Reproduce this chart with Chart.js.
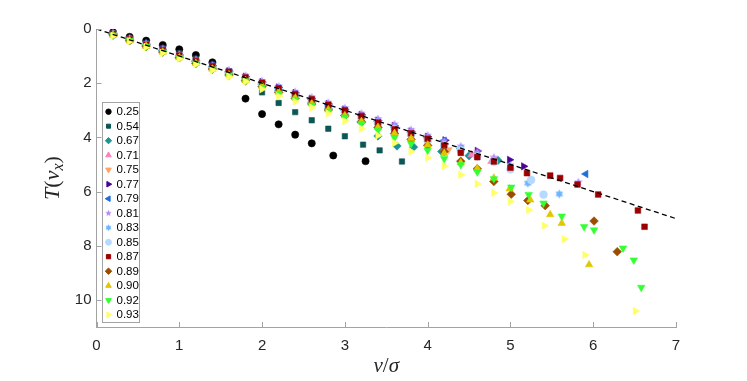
<!DOCTYPE html>
<html>
<head>
<meta charset="utf-8">
<script src="https://cdn.jsdelivr.net/npm/chart.js@4.4.1/dist/chart.umd.min.js"></script>
<style>
body { margin: 0; background: #fff; }
#wrap { width: 747px; height: 381px; }
</style>
</head>
<body>
<div id="wrap"><canvas id="myChart" width="747" height="381"></canvas></div>
<script>
// T(v_x) against v/sigma, one series per density

var seriesNames = ['0.25', '0.54', '0.67', '0.71', '0.75', '0.77', '0.79', '0.81', '0.83', '0.85', '0.87', '0.89', '0.90', '0.92', '0.93'];

var xTicks = [0, 1, 2, 3, 4, 5, 6, 7];
var yTicks = [0, 2, 4, 6, 8, 10];

// dashed reference line
var refX = [0, 7];
var refY = [0, 7];

var x025 = [0.2, 0.4, 0.6, 0.8, 1.0, 1.2, 1.4, 1.6, 1.8, 2.0, 2.2, 2.4, 2.6, 2.86, 3.25];
var y025 = [0.12, 0.29, 0.43, 0.59, 0.75, 0.96, 1.23, 1.58, 2.57, 3.14, 3.52, 3.90, 4.22, 4.67, 4.88];

var x054 = [0.2, 0.4, 0.6, 0.8, 1.0, 1.2, 1.4, 1.6, 1.8, 2.0, 2.2, 2.4, 2.6, 2.8, 3.0, 3.22, 3.42, 3.69];
var y054 = [0.16, 0.34, 0.52, 0.71, 0.90, 1.10, 1.32, 1.56, 1.86, 2.34, 2.73, 3.07, 3.37, 3.68, 3.96, 4.27, 4.48, 4.89];

var x067 = [0.2, 0.4, 0.6, 0.8, 1.0, 1.2, 1.4, 1.6, 1.8, 2.0, 2.2, 2.4, 2.6, 2.8, 3.0, 3.2, 3.4, 3.63, 3.83, 4.17, 4.5, 4.85];
var y067 = [0.20, 0.40, 0.60, 0.80, 1.00, 1.21, 1.42, 1.63, 1.85, 2.06, 2.28, 2.50, 2.72, 2.95, 3.18, 3.45, 3.95, 4.32, 4.36, 4.52, 4.68, 4.85];

var x071 = [0.2, 0.4, 0.6, 0.8, 1.0, 1.2, 1.4, 1.6, 1.8, 2.0, 2.2, 2.4, 2.6, 2.8, 3.0, 3.2, 3.4, 3.6, 3.8, 4.0, 4.2, 4.53, 4.77];
var y071 = [0.20, 0.41, 0.62, 0.82, 1.03, 1.23, 1.44, 1.64, 1.85, 2.06, 2.27, 2.48, 2.69, 2.90, 3.11, 3.33, 3.55, 3.77, 3.99, 4.21, 4.42, 4.64, 4.89];

var x075 = [0.2, 0.4, 0.6, 0.8, 1.0, 1.2, 1.4, 1.6, 1.8, 2.0, 2.2, 2.4, 2.6, 2.8, 3.0, 3.2, 3.4, 3.6, 3.8, 4.0, 4.25, 4.59];
var y075 = [0.22, 0.43, 0.64, 0.85, 1.06, 1.27, 1.48, 1.69, 1.90, 2.11, 2.32, 2.53, 2.74, 2.95, 3.16, 3.37, 3.58, 3.80, 4.02, 4.24, 4.46, 4.64];

var x077 = [0.2, 0.4, 0.6, 0.8, 1.0, 1.2, 1.4, 1.6, 1.8, 2.0, 2.2, 2.4, 2.6, 2.8, 3.0, 3.2, 3.4, 3.6, 3.8, 4.0, 4.21, 4.6, 4.99, 5.16];
var y077 = [0.17, 0.37, 0.56, 0.76, 0.96, 1.16, 1.36, 1.56, 1.76, 1.96, 2.16, 2.36, 2.57, 2.77, 2.97, 3.17, 3.38, 3.58, 3.78, 3.98, 4.11, 4.50, 4.83, 5.07];

var x079 = [0.2, 0.4, 0.6, 0.8, 1.0, 1.2, 1.4, 1.6, 1.8, 2.0, 2.2, 2.4, 2.6, 2.8, 3.0, 3.2, 3.4, 3.6, 3.8, 4.0, 4.2, 4.4, 5.91];
var y079 = [0.18, 0.38, 0.58, 0.78, 0.98, 1.18, 1.38, 1.58, 1.79, 1.99, 2.19, 2.39, 2.60, 2.80, 3.00, 3.20, 3.41, 3.62, 3.82, 4.02, 4.12, 4.42, 5.35];

var x081 = [0.2, 0.4, 0.6, 0.8, 1.0, 1.2, 1.4, 1.6, 1.8, 2.0, 2.2, 2.4, 2.6, 2.8, 3.0, 3.2, 3.4, 3.6, 3.8, 4.0, 4.2, 4.4, 4.6, 4.8, 5.82];
var y081 = [0.14, 0.33, 0.52, 0.72, 0.92, 1.12, 1.32, 1.52, 1.72, 1.92, 2.12, 2.32, 2.52, 2.72, 2.92, 3.12, 3.32, 3.52, 3.72, 3.93, 4.13, 4.33, 4.53, 4.74, 5.65];

var x083 = [0.2, 0.4, 0.6, 0.8, 1.0, 1.2, 1.4, 1.6, 1.8, 2.0, 2.2, 2.4, 2.6, 2.8, 3.0, 3.2, 3.4, 3.6, 3.8, 4.0, 4.2, 4.4, 4.6, 4.8, 5.0, 5.21, 5.59];
var y083 = [0.19, 0.39, 0.59, 0.80, 1.00, 1.20, 1.41, 1.61, 1.82, 2.02, 2.22, 2.43, 2.63, 2.84, 3.04, 3.25, 3.45, 3.66, 3.86, 4.07, 4.27, 4.42, 4.66, 4.87, 5.05, 5.69, 6.09];

var x085 = [0.2, 0.4, 0.6, 0.8, 1.0, 1.2, 1.4, 1.6, 1.8, 2.0, 2.2, 2.4, 2.6, 2.8, 3.0, 3.2, 3.4, 3.6, 3.8, 4.0, 4.2, 4.4, 4.6, 4.8, 5.0, 5.25, 5.4];
var y085 = [0.21, 0.41, 0.61, 0.82, 1.02, 1.23, 1.43, 1.64, 1.84, 2.05, 2.25, 2.46, 2.66, 2.87, 3.07, 3.28, 3.48, 3.69, 3.89, 4.10, 4.30, 4.48, 4.70, 4.90, 5.18, 5.57, 6.11];

var x087 = [0.2, 0.4, 0.6, 0.8, 1.0, 1.2, 1.4, 1.6, 1.8, 2.0, 2.2, 2.4, 2.6, 2.8, 3.0, 3.2, 3.4, 3.6, 3.8, 4.0, 4.2, 4.4, 4.6, 4.8, 5.0, 5.2, 5.48, 5.6, 5.81, 6.06, 6.54, 6.62];
var y087 = [0.18, 0.38, 0.58, 0.78, 0.98, 1.18, 1.38, 1.58, 1.79, 1.99, 2.19, 2.40, 2.60, 2.80, 3.00, 3.21, 3.45, 3.70, 3.85, 4.05, 4.30, 4.57, 4.73, 4.89, 5.12, 5.32, 5.41, 5.50, 5.74, 6.11, 6.70, 7.30];

var x089 = [0.2, 0.4, 0.6, 0.8, 1.0, 1.2, 1.4, 1.6, 1.8, 2.0, 2.2, 2.4, 2.6, 2.8, 3.0, 3.2, 3.4, 3.6, 3.8, 4.0, 4.2, 4.4, 4.6, 4.8, 5.01, 5.21, 5.42, 6.01, 6.29];
var y089 = [0.22, 0.43, 0.64, 0.85, 1.06, 1.27, 1.48, 1.70, 1.91, 2.13, 2.34, 2.56, 2.77, 2.99, 3.20, 3.42, 3.64, 3.86, 4.08, 4.30, 4.52, 4.88, 5.16, 5.63, 6.10, 6.33, 6.52, 7.09, 8.22];

var x090 = [0.2, 0.4, 0.6, 0.8, 1.0, 1.2, 1.4, 1.6, 1.8, 2.0, 2.2, 2.4, 2.6, 2.8, 3.0, 3.2, 3.4, 3.6, 3.8, 4.0, 4.2, 4.4, 4.6, 4.8, 4.99, 5.24, 5.48, 5.62, 5.95];
var y090 = [0.22, 0.43, 0.64, 0.85, 1.06, 1.27, 1.48, 1.69, 1.90, 2.11, 2.33, 2.54, 2.76, 2.98, 3.20, 3.42, 3.63, 3.85, 4.04, 4.28, 4.59, 4.94, 5.14, 5.50, 5.90, 6.31, 6.85, 7.17, 8.70];

var x092 = [0.2, 0.4, 0.6, 0.8, 1.0, 1.2, 1.4, 1.6, 1.8, 2.0, 2.2, 2.4, 2.6, 2.8, 3.0, 3.2, 3.4, 3.6, 3.8, 4.0, 4.2, 4.4, 4.6, 4.8, 5.01, 5.22, 5.4, 5.62, 5.89, 6.01, 6.36, 6.49, 6.58];
var y092 = [0.23, 0.43, 0.64, 0.85, 1.06, 1.27, 1.48, 1.70, 1.92, 2.15, 2.38, 2.60, 2.82, 3.04, 3.25, 3.49, 3.74, 4.01, 4.23, 4.48, 4.79, 5.01, 5.28, 5.53, 5.84, 6.11, 6.43, 6.91, 7.30, 7.42, 8.09, 8.53, 9.54];

var x093 = [0.2, 0.4, 0.6, 0.8, 1.0, 1.2, 1.4, 1.6, 1.8, 2.0, 2.2, 2.4, 2.6, 2.8, 3.0, 3.2, 3.4, 3.6, 3.8, 4.0, 4.2, 4.4, 4.6, 4.8, 5.0, 5.22, 5.41, 5.65, 5.9, 6.51];
var y093 = [0.25, 0.45, 0.66, 0.88, 1.10, 1.30, 1.52, 1.76, 1.94, 2.22, 2.48, 2.68, 2.90, 3.12, 3.40, 3.68, 3.93, 4.21, 4.52, 4.75, 5.06, 5.38, 5.72, 6.05, 6.37, 6.68, 7.26, 7.75, 8.34, 10.41];

var seriesX = [x025, x054, x067, x071, x075, x077, x079, x081, x083, x085, x087, x089, x090, x092, x093];
var seriesY = [y025, y054, y067, y071, y075, y077, y079, y081, y083, y085, y087, y089, y090, y092, y093];


// filled star markers (chart.js only has line stars)
function makeStar(color, spikes, outer, inner) {
	var c = document.createElement('canvas');
	var s = Math.ceil(outer * 2 + 2);
	c.width = s;
	c.height = s;
	var g = c.getContext('2d');
	g.fillStyle = color;
	g.beginPath();
	for (var i = 0; i < spikes * 2; i++) {
		var r = i % 2 === 0 ? outer : inner;
		var a = -Math.PI / 2 + i * Math.PI / spikes;
		var px = s / 2 + r * Math.cos(a);
		var py = s / 2 + r * Math.sin(a);
		if (i === 0) g.moveTo(px, py); else g.lineTo(px, py);
	}
	g.closePath();
	g.fill();
	return c;
}

// marker look for each series, same order as seriesNames
var markers = [
	{ color: '#000000', style: 'circle', rot: 0, r: 3.6 },
	{ color: '#0d5656', style: 'rect', rot: 0, r: 3.8 },
	{ color: '#1a9595', style: 'rectRot', rot: 0, r: 4.2 },
	{ color: '#ff80c0', style: 'triangle', rot: 0, r: 4.3 },
	{ color: '#ffa468', style: 'triangle', rot: 180, r: 4.3 },
	{ color: '#4c0096', style: 'triangle', rot: 90, r: 4.3 },
	{ color: '#1f6fd9', style: 'triangle', rot: 270, r: 4.3 },
	{ color: '#b486ff', style: 'star5', rot: 0, r: 4.6 },
	{ color: '#6cb4ff', style: 'star6', rot: 0, r: 4.4 },
	{ color: '#b6d9ff', style: 'circle', rot: 0, r: 3.9 },
	{ color: '#9c0000', style: 'rect', rot: 0, r: 4.0 },
	{ color: '#9a4c00', style: 'rectRot', rot: 0, r: 4.3 },
	{ color: '#e0c800', style: 'triangle', rot: 0, r: 4.3 },
	{ color: '#33ff33', style: 'triangle', rot: 180, r: 4.3 },
	{ color: '#ffff66', style: 'triangle', rot: 90, r: 4.3 }
];

function pointStyleFor(m, scale) {
	if (m.style === 'star5') return makeStar(m.color, 5, m.r * scale, m.r * scale * 0.42);
	if (m.style === 'star6') return makeStar(m.color, 6, m.r * scale, m.r * scale * 0.58);
	return m.style;
}

var datasets = [];
for (var i = 0; i < seriesNames.length; i++) {
	var pts = [];
	for (var j = 0; j < seriesX[i].length; j++) {
		pts.push({ x: seriesX[i][j], y: seriesY[i][j] });
	}
	var m = markers[i];
	datasets.push({
		type: 'scatter',
		label: seriesNames[i],
		data: pts,
		order: 20 - i,
		pointStyle: pointStyleFor(m, 1),
		pointRotation: m.rot,
		pointRadius: m.r,
		pointBackgroundColor: m.color,
		pointBorderColor: m.color,
		pointBorderWidth: 0.6,
		showLine: false
	});
}

var refPts = [];
for (var k = 0; k < refX.length; k++) refPts.push({ x: refX[k], y: refY[k] });
datasets.push({
	type: 'line',
	label: 'ref',
	data: refPts,
	order: 0,
	borderColor: '#000000',
	borderWidth: 1.3,
	borderDash: [5, 3.5],
	pointRadius: 0,
	fill: false
});

var axisColor = '#a3a3a3';
var tickColor = '#262626';

// inward ticks, axis titles and the boxed legend
var extras = {
	id: 'extras',
	afterDraw: function(chart) {
		var ctx = chart.ctx;
		var xs = chart.scales.x;
		var ys = chart.scales.y;
		var area = chart.chartArea;

		ctx.save();
		ctx.strokeStyle = axisColor;
		ctx.lineWidth = 1;
		ctx.beginPath();
		for (var a = 0; a < xTicks.length; a++) {
			var px = Math.round(xs.getPixelForValue(xTicks[a])) + 0.5;
			ctx.moveTo(px, area.bottom);
			ctx.lineTo(px, area.bottom - 5);
		}
		for (var b = 0; b < yTicks.length; b++) {
			var py = Math.round(ys.getPixelForValue(yTicks[b])) + 0.5;
			ctx.moveTo(area.left, py);
			ctx.lineTo(area.left + 5, py);
		}
		ctx.stroke();
		ctx.restore();

		// y title T(v_x), rotated
		ctx.save();
		ctx.fillStyle = '#262626';
		ctx.translate(53, (area.top + area.bottom) / 2);
		ctx.rotate(-Math.PI / 2);
		var parts = [
			['T', 'italic 22px "Liberation Serif"', 0],
			['(', '22px "Liberation Serif"', 0],
			['v', 'italic 22px "Liberation Serif"', 0],
			['x', 'italic 16px "Liberation Serif"', 4],
			[')', '22px "Liberation Serif"', 0]
		];
		var total = 0;
		for (var p = 0; p < parts.length; p++) {
			ctx.font = parts[p][1];
			total += ctx.measureText(parts[p][0]).width;
		}
		var cx = -total / 2;
		ctx.textBaseline = 'alphabetic';
		ctx.textAlign = 'left';
		for (var q = 0; q < parts.length; q++) {
			ctx.font = parts[q][1];
			ctx.fillText(parts[q][0], cx, 6 + parts[q][2]);
			cx += ctx.measureText(parts[q][0]).width;
		}
		ctx.restore();

		// x title v/sigma
		ctx.save();
		ctx.fillStyle = '#262626';
		var xparts = [
			['v', 'italic 21px "Liberation Serif"'],
			['/', '21px "Liberation Serif"'],
			['\u03c3', 'italic 21px "Liberation Serif"']
		];
		var xw = 0;
		for (var r = 0; r < xparts.length; r++) {
			ctx.font = xparts[r][1];
			xw += ctx.measureText(xparts[r][0]).width;
		}
		var tx = (area.left + area.right) / 2 - xw / 2;
		ctx.textBaseline = 'alphabetic';
		for (var s = 0; s < xparts.length; s++) {
			ctx.font = xparts[s][1];
			ctx.fillText(xparts[s][0], tx, 372);
			tx += ctx.measureText(xparts[s][0]).width;
		}
		ctx.restore();

		// legend box
		ctx.save();
		ctx.fillStyle = '#ffffff';
		ctx.fillRect(102.5, 102.5, 37, 220);
		ctx.strokeStyle = axisColor;
		ctx.lineWidth = 1;
		ctx.strokeRect(102.5, 102.5, 37, 220);
		ctx.font = '11.5px "Liberation Sans"';
		ctx.textBaseline = 'middle';
		ctx.textAlign = 'left';
		for (var t = 0; t < seriesNames.length; t++) {
			var ly = 111.7 + t * 14.5;
			var mk = markers[t];
			ctx.fillStyle = mk.color;
			ctx.strokeStyle = mk.color;
			Chart.helpers.drawPoint(ctx, {
				pointStyle: pointStyleFor(mk, 0.75),
				rotation: mk.rot,
				radius: mk.r * 0.75,
				borderWidth: 0.5
			}, 108.5, ly);
			ctx.fillStyle = '#000000';
			ctx.fillText(seriesNames[t], 116.5, ly + 0.5);
		}
		ctx.restore();
	}
};

var ctx = document.getElementById('myChart');
var myChart = new Chart(ctx, {
	type: 'scatter',
	data: { datasets: datasets },
	plugins: [extras],
	options: {
		responsive: false,
		animation: false,
		devicePixelRatio: 1,
		layout: { padding: { top: 29, right: 71, left: 0, bottom: 0 } },
		plugins: {
			legend: { display: false },
			tooltip: { enabled: false }
		},
		scales: {
			x: {
				type: 'linear',
				min: 0,
				max: 7,
				afterBuildTicks: function(scale) {
					scale.ticks = xTicks.map(function(v) { return { value: v }; });
				},
				afterFit: function(scale) { scale.height = 54; },
				grid: { display: false, drawTicks: false },
				border: { display: true, color: axisColor, width: 1 },
				ticks: {
					padding: 10,
					color: tickColor,
					maxRotation: 0,
					autoSkip: false,
					font: { family: 'Liberation Sans', size: 15 }
				}
			},
			y: {
				type: 'linear',
				min: 0,
				max: 11,
				reverse: true,
				afterBuildTicks: function(scale) {
					scale.ticks = yTicks.map(function(v) { return { value: v }; });
				},
				afterFit: function(scale) { scale.width = 96.5; },
				grid: { display: false, drawTicks: false },
				border: { display: true, color: axisColor, width: 1 },
				ticks: {
					padding: 5,
					color: tickColor,
					autoSkip: false,
					font: { family: 'Liberation Sans', size: 15 }
				}
			}
		}
	}
});
</script>
</body>
</html>
